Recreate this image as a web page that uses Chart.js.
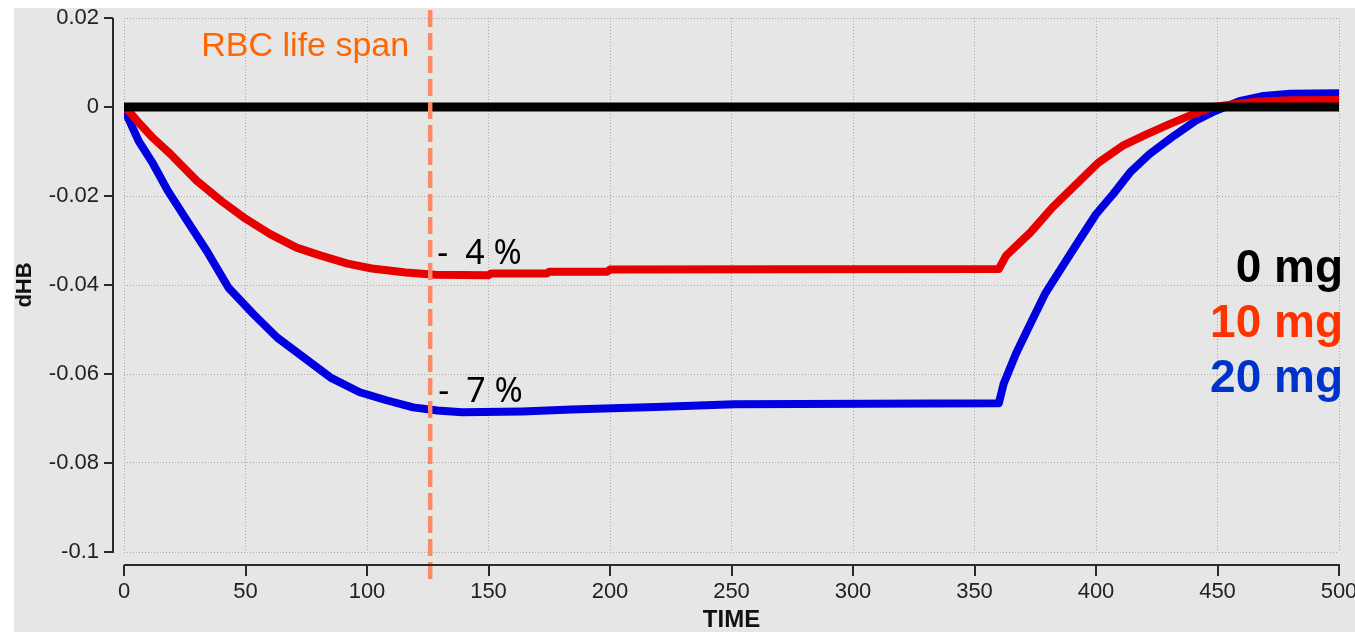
<!DOCTYPE html>
<html>
<head>
<meta charset="utf-8">
<script src="https://cdn.jsdelivr.net/npm/chart.js@4.4.1/dist/chart.umd.min.js"></script>
<style>
  html, body { margin: 0; padding: 0; background: #fff; }
  canvas { display: block; }
</style>
</head>
<body>
<canvas id="dhbChart" width="1355" height="632"></canvas>
<script>
// dHB over time for three doses
const zeroT = [0, 500];
const zeroV = [0, 0];

const redT = [0, 2, 6, 12, 19, 30, 40, 50, 60, 71, 81, 92, 102, 116, 128, 150, 151, 174, 175, 199, 200,
              360, 363, 373, 382, 392, 401, 411, 421, 430, 440, 448, 458, 466, 480, 500];
const redV = [0, -0.0009, -0.0035, -0.0070, -0.0105, -0.0166, -0.0211, -0.0251, -0.0285, -0.0316, -0.0334,
              -0.0352, -0.0363, -0.0372, -0.0377, -0.0378, -0.0374, -0.0374, -0.0370, -0.0370, -0.0365,
              -0.0364, -0.0334, -0.0282, -0.0226, -0.0173, -0.0125, -0.0087, -0.0061, -0.0039, -0.0016,
              0, 0.0007, 0.0012, 0.0015, 0.0016];

const blueT = [0, 1, 6, 12, 18, 26, 34, 43, 53, 63, 74, 85, 97, 108, 119, 129, 139, 164, 184, 201, 219, 251,
               360, 362, 367, 373, 379, 386, 393, 400, 407, 414, 422, 432, 441, 449, 459, 469, 480, 500];
const blueV = [0, -0.0016, -0.0076, -0.0128, -0.0188, -0.0256, -0.0323, -0.0406, -0.0464, -0.0518, -0.0563,
               -0.0608, -0.0641, -0.0659, -0.0675, -0.0682, -0.0686, -0.0684, -0.0680, -0.0677, -0.0674,
               -0.0668, -0.0666, -0.0622, -0.0555, -0.0487, -0.0420, -0.0360, -0.0300, -0.0241, -0.0196,
               -0.0147, -0.0106, -0.0065, -0.0031, -0.0009, 0.0013, 0.0025, 0.0030, 0.0031];

const doseLabels = ['0 mg', '10 mg', '20 mg'];
const lifeSpan = 126;

const zip = (t, v) => t.map((x, i) => ({ x: x, y: v[i] }));

const tickFont = "'Liberation Sans Narrow', 'Arial Narrow', 'Liberation Sans', sans-serif";

// grey panel behind everything
const panelBg = {
    id: 'panelBg',
    beforeDraw(chart) {
        const ctx = chart.ctx;
        ctx.save();
        ctx.fillStyle = '#e6e6e6';
        ctx.fillRect(14, 8, chart.width - 14, chart.height - 8);
        ctx.restore();
    }
};

// axes drawn detached from the plot box
const offsetAxes = {
    id: 'offsetAxes',
    afterDraw(chart) {
        const { ctx, chartArea: a, scales: { x, y } } = chart;
        ctx.save();
        ctx.strokeStyle = '#2b2b2b';
        ctx.lineWidth = 2;
        ctx.beginPath();
        ctx.moveTo(a.left - 11, a.top);
        ctx.lineTo(a.left - 11, a.bottom + 1);
        y.ticks.forEach(t => {
            const py = Math.round(y.getPixelForValue(t.value));
            ctx.moveTo(a.left - 20, py);
            ctx.lineTo(a.left - 11, py);
        });
        ctx.moveTo(a.left, a.bottom + 13);
        ctx.lineTo(a.right + 1, a.bottom + 13);
        x.ticks.forEach(t => {
            const px = Math.round(x.getPixelForValue(t.value));
            ctx.moveTo(px, a.bottom + 13);
            ctx.lineTo(px, a.bottom + 24);
        });
        ctx.stroke();
        ctx.restore();
    }
};

// life span marker and text notes
const notes = {
    id: 'notes',
    afterDatasetsDraw(chart) {
        const { ctx, chartArea: a, scales: { x, y } } = chart;
        const lx = x.getPixelForValue(lifeSpan);
        ctx.save();
        ctx.strokeStyle = '#ff8866';
        ctx.lineWidth = 4.5;
        ctx.setLineDash([17, 6]);
        ctx.beginPath();
        ctx.moveTo(lx, 10);
        ctx.lineTo(lx, a.bottom + 28);
        ctx.stroke();
        ctx.setLineDash([]);

        ctx.fillStyle = '#ff6600';
        ctx.font = "34px 'Liberation Sans', Arial, sans-serif";
        ctx.textAlign = 'right';
        ctx.textBaseline = 'alphabetic';
        ctx.fillText('RBC life span', lx - 21, 56);

        ctx.fillStyle = '#000';
        ctx.textAlign = 'left';
        ctx.font = "34px 'Noto Sans', sans-serif";
        const ry = y.getPixelForValue(-0.0378) - 11;
        const by = y.getPixelForValue(-0.0686) - 10;
        ctx.fillText('-', lx + 7, ry);
        ctx.fillText('4 %', lx + 35, ry);
        ctx.fillText('-', lx + 8, by);
        ctx.fillText('7 %', lx + 36, by);

        ctx.font = "bold 46px 'Liberation Sans', Arial, sans-serif";
        ctx.textAlign = 'right';
        const cols = ['#000000', '#ff3300', '#0033cc'];
        const base = [282, 337, 392];
        doseLabels.forEach((s, i) => {
            ctx.fillStyle = cols[i];
            ctx.fillText(s, a.right + 4, base[i]);
        });
        ctx.restore();
    }
};

new Chart(document.getElementById('dhbChart').getContext('2d'), {
    type: 'line',
    data: {
        datasets: [
            {
                label: doseLabels[0],
                data: zip(zeroT, zeroV),
                borderColor: '#000000',
                borderWidth: 9
            },
            {
                label: doseLabels[1],
                data: zip(redT, redV),
                borderColor: '#e80000',
                borderWidth: 8
            },
            {
                label: doseLabels[2],
                data: zip(blueT, blueV),
                borderColor: '#0000e0',
                borderWidth: 8
            }
        ]
    },
    options: {
        responsive: false,
        animation: false,
        layout: {
            padding: { top: 18, right: 16, left: 0, bottom: 0 }
        },
        elements: {
            point: { radius: 0 },
            line: { tension: 0, borderCapStyle: 'round', borderJoinStyle: 'round' }
        },
        plugins: {
            legend: { display: false },
            tooltip: { enabled: false }
        },
        scales: {
            x: {
                type: 'linear',
                min: 0,
                max: 500,
                afterFit: s => {
                    s.height = 80;
                    s.paddingLeft = 0;
                    s.paddingRight = 0;
                },
                ticks: {
                    stepSize: 50,
                    padding: 27,
                    color: '#222',
                    font: { family: tickFont, size: 22 }
                },
                grid: { color: '#a8a8a8', lineWidth: 1, drawTicks: false },
                border: { display: false, dash: [1, 2] },
                title: {
                    display: true,
                    text: 'TIME',
                    color: '#111',
                    padding: { top: 0, bottom: 0 },
                    font: { family: "'Liberation Sans', Arial, sans-serif", size: 24, weight: 'bold', lineHeight: 1 }
                }
            },
            y: {
                type: 'linear',
                min: -0.1,
                max: 0.02,
                afterFit: s => {
                    s.width = 124;
                    s.paddingTop = 0;
                    s.paddingBottom = 0;
                },
                ticks: {
                    stepSize: 0.02,
                    padding: 25,
                    color: '#222',
                    font: { family: tickFont, size: 22 },
                    callback: v => String(Number(v.toFixed(2)))
                },
                grid: { color: '#a8a8a8', lineWidth: 1, drawTicks: false },
                border: { display: false, dash: [1, 2] },
                title: {
                    display: true,
                    text: 'dHB',
                    color: '#111',
                    padding: { top: 12, bottom: 0 },
                    font: { family: "'Liberation Sans', Arial, sans-serif", size: 22, weight: 'bold', lineHeight: 1.2 }
                }
            }
        }
    },
    plugins: [panelBg, offsetAxes, notes]
});
</script>
</body>
</html>
